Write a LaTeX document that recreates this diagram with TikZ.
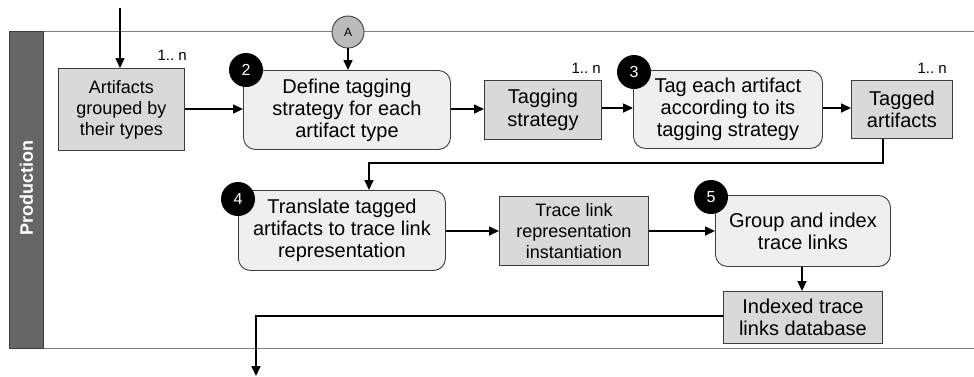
\documentclass[tikz,border=0pt]{standalone}
\usepackage{fontspec}
\setmainfont{Liberation Sans}
\usetikzlibrary{arrows.meta,positioning}
\definecolor{lanebar}{HTML}{666666}
\definecolor{laneline}{HTML}{808080}
\definecolor{stepfill}{HTML}{EFEFEF}
\definecolor{datafill}{HTML}{D9D9D9}
\definecolor{edgegray}{HTML}{3C3C3C}
\definecolor{connfill}{HTML}{BBBBBB}
\tikzset{
  stepbox/.style={draw=edgegray, line width=0.9pt, fill=stepfill, rounded corners=12pt,
    inner sep=0pt, align=center, font=\fontsize{20}{22}\selectfont},
  databox/.style={draw=edgegray, line width=0.9pt, fill=datafill,
    inner sep=0pt, align=center, font=\fontsize{18}{21}\selectfont},
  bigdata/.style={databox, font=\fontsize{20}{22.5}\selectfont},
  badge/.style={circle, fill=black, text=white, minimum size=34pt, inner sep=0pt,
    font=\fontsize{16}{16}\selectfont},
  mult/.style={font=\fontsize{15}{15}\selectfont, inner sep=0pt},
  flow/.style={line width=1.6pt, -{Triangle[length=10pt,width=9pt]}},
}
\begin{document}
\begin{tikzpicture}[x=1pt,y=-1pt]
\useasboundingbox (0,0) rectangle (974,376);

% swimlane
\draw[laneline, line width=1pt] (9,31) -- (974,31);
\draw[laneline, line width=1pt] (9,348) -- (974,348);
\node[draw=edgegray, fill=lanebar, line width=0.8pt, minimum width=34pt, minimum height=317pt,
  inner sep=0pt, anchor=north west] (bar) at (9,31) {};
\node[rotate=90, text=white, font=\fontsize{18}{18}\selectfont\bfseries] (lanelabel) at (26.5,188) {Production};

% nodes
\coordinate (entry) at (120,8);
\node[databox, minimum width=126pt, minimum height=82pt, anchor=north west] (art) at (58,68)
  {Artifacts\\grouped by\\their types};
\node[mult, anchor=south east] (m1) at (187,61) {1..\ n};

\node[stepbox, minimum width=207pt, minimum height=79pt, anchor=north west] (s2) at (243,70)
  {Define tagging\\strategy for each\\artifact type};
\node[badge] (b2) at (246,70) {2};

\node[circle, draw=edgegray, fill=connfill, line width=0.9pt, minimum size=32pt, inner sep=0pt,
  font=\fontsize{12}{12}\selectfont] (conA) at (348,32) {A};

\node[bigdata, minimum width=117pt, minimum height=59pt, anchor=north west] (ts) at (484,80)
  {Tagging\\strategy};
\node[mult, anchor=south east] (m2) at (601,74) {1..\ n};

\node[stepbox, minimum width=189pt, minimum height=78pt, anchor=north west] (s3) at (633,70)
  {Tag each artifact\\according to its\\tagging strategy};
\node[badge] (b3) at (634,72) {3};

\node[bigdata, minimum width=101pt, minimum height=58pt, anchor=north west] (ta) at (851,80)
  {Tagged\\artifacts};
\node[mult, anchor=south east] (m3) at (947,74) {1..\ n};

\node[stepbox, minimum width=207pt, minimum height=80pt, anchor=north west] (s4) at (238,190)
  {Translate tagged\\artifacts to trace link\\representation};
\node[badge] (b4) at (238,199) {4};

\node[databox, minimum width=149pt, minimum height=69pt, anchor=north west] (tl) at (499,196)
  {Trace link\\representation\\instantiation};

\node[stepbox, minimum width=175pt, minimum height=71pt, anchor=north west] (s5) at (715,195)
  {Group and index\\trace links};
\node[badge] (b5) at (711,197) {5};

\node[bigdata, minimum width=159pt, minimum height=52pt, anchor=north west] (idx) at (723,291)
  {Indexed trace\\links database};

\coordinate (exit) at (256,376);

% connectors
\draw[flow] (entry) -- (art.north -| entry);
\draw[flow] (art.east |- 0,109) -- (s2.west |- 0,109);
\draw[flow] (conA.south) -- (s2.north -| conA);
\draw[flow] (s2.east |- 0,109) -- (ts.west |- 0,109);
\draw[flow] (ts.east |- 0,108) -- (s3.west |- 0,108);
\draw[flow] (s3.east |- 0,108) -- (ta.west |- 0,108);
\draw[flow] (ta.south -| 883,0) |- (369,163) -- (s4.north -| 369,0);
\draw[flow] (s4.east |- 0,231) -- (tl.west |- 0,231);
\draw[flow] (tl.east |- 0,231) -- (s5.west |- 0,231);
\draw[flow] (s5.south -| 802,0) -- (idx.north -| 802,0);
\draw[flow] (idx.west |- 0,316) -| (exit);
\end{tikzpicture}
\end{document}
